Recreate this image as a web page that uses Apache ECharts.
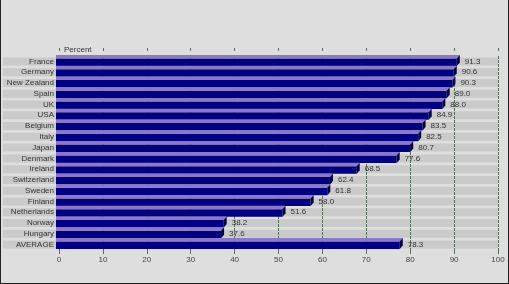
<!DOCTYPE html>
<html>
<head>
<meta charset="utf-8">
<script src="https://cdn.jsdelivr.net/npm/echarts@6/dist/echarts.min.js"></script>
<style>
html,body{margin:0;padding:0;background:#dedede;}
#wrap{position:relative;width:509px;height:284px;}
#chart{position:absolute;left:0;top:0;width:509px;height:284px;}
#frame{position:absolute;left:0;top:0;width:507px;height:283px;border-left:1px solid #222;border-right:1px solid #222;border-bottom:1px solid #222;pointer-events:none;}
</style>
</head>
<body>
<div id="wrap"><div id="chart"></div><div id="frame"></div></div>
<script>
const categories = ['France','Germany','New Zealand','Spain','UK','USA','Belgium','Italy','Japan','Denmark','Ireland','Switzerland','Sweden','Finland','Netherlands','Norway','Hungary','AVERAGE'];
const values = [91.3,90.6,90.3,89.0,88.0,84.9,83.5,82.5,80.7,77.6,68.5,62.4,61.8,58.0,51.6,38.2,37.6,78.3];
const xTicks = [0,10,20,30,40,50,60,70,80,90,100];
const bandFull = categories.map(() => 100);

const font = '"Liberation Sans", Arial, sans-serif';
const chart = echarts.init(document.getElementById('chart'), null, {renderer:'canvas'});

function renderBand(params, api) {
  const c = api.value(0);
  const p0 = api.coord([0, c]);
  const p1 = api.coord([api.value(1), c]);
  const yc = p0[1];
  return {type:'rect', shape:{x:p0[0]-3, y:yc-4, width:p1[0]-p0[0]+3, height:8}, style:{fill:'#cacaca'}, silent:true};
}

function renderBar(params, api) {
  const c = api.value(0);
  const v = api.value(1);
  const p0 = api.coord([0, c]);
  const p1 = api.coord([v, c]);
  const x0 = p0[0] - 3, xe = p1[0], yc = p0[1];
  const d = 3;
  return {
    type:'group',
    children:[
      {type:'rect', shape:{x:x0, y:yc-3, width:xe-d-x0, height:7.5}, style:{fill:'#000080'}},
      {type:'polygon', shape:{points:[[x0,yc-3],[xe-d,yc-3],[xe,yc-6.5],[x0,yc-6.5]]}, style:{fill:'#8a78c8'}},
      {type:'polygon', shape:{points:[[xe-d,yc-3],[xe,yc-6.5],[xe,yc+1],[xe-d,yc+4.5]]}, style:{fill:'#00003a'}},
      {type:'text', x:xe+5, y:yc, style:{text:v.toFixed(1), fill:'#333', font:'8px ' + font, verticalAlign:'middle', align:'left'}}
    ]
  };
}

chart.setOption({
  backgroundColor:'#dedede',
  animation:false,
  title:{text:'Percent', left:59, top:41, textStyle:{fontSize:8, fontWeight:'normal', color:'#333', fontFamily:font}},
  grid:{left:58, right:11, top:56, bottom:34},
  xAxis:[
    {type:'value', min:0, max:100, interval:10, position:'bottom',
     axisLine:{show:false},
     axisTick:{show:true, inside:false, length:4, lineStyle:{color:'#5a6e60'}},
     axisLabel:{margin:6, fontSize:8, color:'#444', fontFamily:font,
       formatter:(v)=> xTicks.indexOf(v) >= 0 ? String(v) : ''},
     splitLine:{show:true, lineStyle:{color:'#5a6e60', width:1, type:[3,1]}}},
    {type:'value', min:0, max:100, interval:10, position:'top', offset:5,
     axisLine:{show:false}, axisLabel:{show:false}, splitLine:{show:false},
     axisTick:{show:true, length:3, lineStyle:{color:'#5a6e60'}}}
  ],
  yAxis:{type:'category', data:categories, inverse:true,
    axisLine:{show:false}, axisTick:{show:false}, splitLine:{show:false},
    axisLabel:{interval:0, margin:3, fontSize:8, color:'#333', fontFamily:font, align:'right',
      backgroundColor:'#cacaca', width:51, padding:[0,2,0,0], lineHeight:8, height:8}},
  series:[
    {type:'custom', z:-1, silent:true, renderItem:renderBand, data:categories.map((c,i)=>[i, bandFull[i]]), clip:false},
    {type:'custom', z:3, renderItem:renderBar, data:categories.map((c,i)=>[i, values[i]]), clip:false}
  ]
});
</script>
</body>
</html>
